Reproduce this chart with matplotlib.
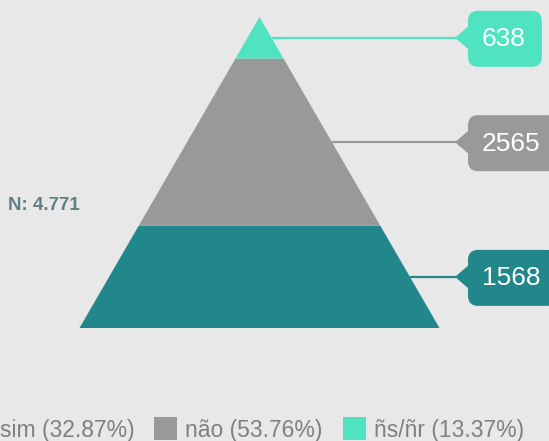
import matplotlib
matplotlib.use('Agg')
import matplotlib.pyplot as plt
from matplotlib.patches import Polygon, FancyBboxPatch, Rectangle

plt.rcParams['font.family'] = ['Liberation Sans', 'DejaVu Sans']

# data (bottom to top)
labels = ['sim', 'não', 'ñs/ñr']
values = [1568, 2565, 638]
colors = ['#21878a', '#999999', '#50e3c2']
total_label = 'N: 4.771'

W, H = 549, 441
fig = plt.figure(figsize=(W / 100, H / 100), dpi=100)
fig.patch.set_facecolor('#e8e8e8')
ax = fig.add_axes([0, 0, 1, 1])
ax.set_xlim(0, W)
ax.set_ylim(H, 0)
ax.axis('off')

# pyramid layout (pixels)
apex_x, apex_y = 259.5, 17
base_y, base_l, base_r = 328, 80, 440
total = sum(values)


def half_width(y):
    return (y - apex_y) / (base_y - apex_y) * (base_r - base_l) / 2


y_bot = base_y
box_x = 468
for val, col in zip(values, colors):
    h = val / total * (base_y - apex_y)
    y_top = y_bot - h
    pts = [(apex_x - half_width(y_bot), y_bot), (apex_x + half_width(y_bot), y_bot),
           (apex_x + half_width(y_top), y_top), (apex_x - half_width(y_top), y_top)]
    ax.add_patch(Polygon(pts, closed=True, facecolor=col, edgecolor='none'))
    ym = (y_top + y_bot) / 2
    # connector line
    ax.plot([apex_x + half_width(ym), box_x - 12], [ym, ym], color=col, lw=1.6,
            solid_capstyle='butt')
    # callout
    t = ax.text(box_x + 14, ym + 1.5, str(val), color='white', fontsize=19,
                ha='left', va='center', zorder=5)
    fig.canvas.draw()
    bb = t.get_window_extent()
    bw = bb.width + 30
    ax.add_patch(FancyBboxPatch((box_x, ym - 27), bw, 56,
                                boxstyle='round,pad=0,rounding_size=10',
                                facecolor=col, edgecolor='none'))
    ax.add_patch(Polygon([(box_x - 13, ym), (box_x + 1, ym - 12), (box_x + 1, ym + 12)],
                         closed=True, facecolor=col, edgecolor='none'))
    y_bot = y_top

ax.text(8, 205, total_label, color='#5f7f86', fontsize=13.5, fontweight='bold',
        ha='left', va='center')

# legend (partially off canvas on the left)
leg_sq = [-31, 154, 343]
for i, (lab, val, col) in enumerate(zip(labels, values, colors)):
    pct = val / total * 100
    ax.add_patch(Rectangle((leg_sq[i], 417), 23, 23, facecolor=col, edgecolor='none'))
    ax.text(leg_sq[i] + 31, 430, f'{lab} ({pct:.2f}%)', color='#808080',
            fontsize=16.5, ha='left', va='center')

fig.savefig('out.png', dpi=100, facecolor=fig.get_facecolor())
